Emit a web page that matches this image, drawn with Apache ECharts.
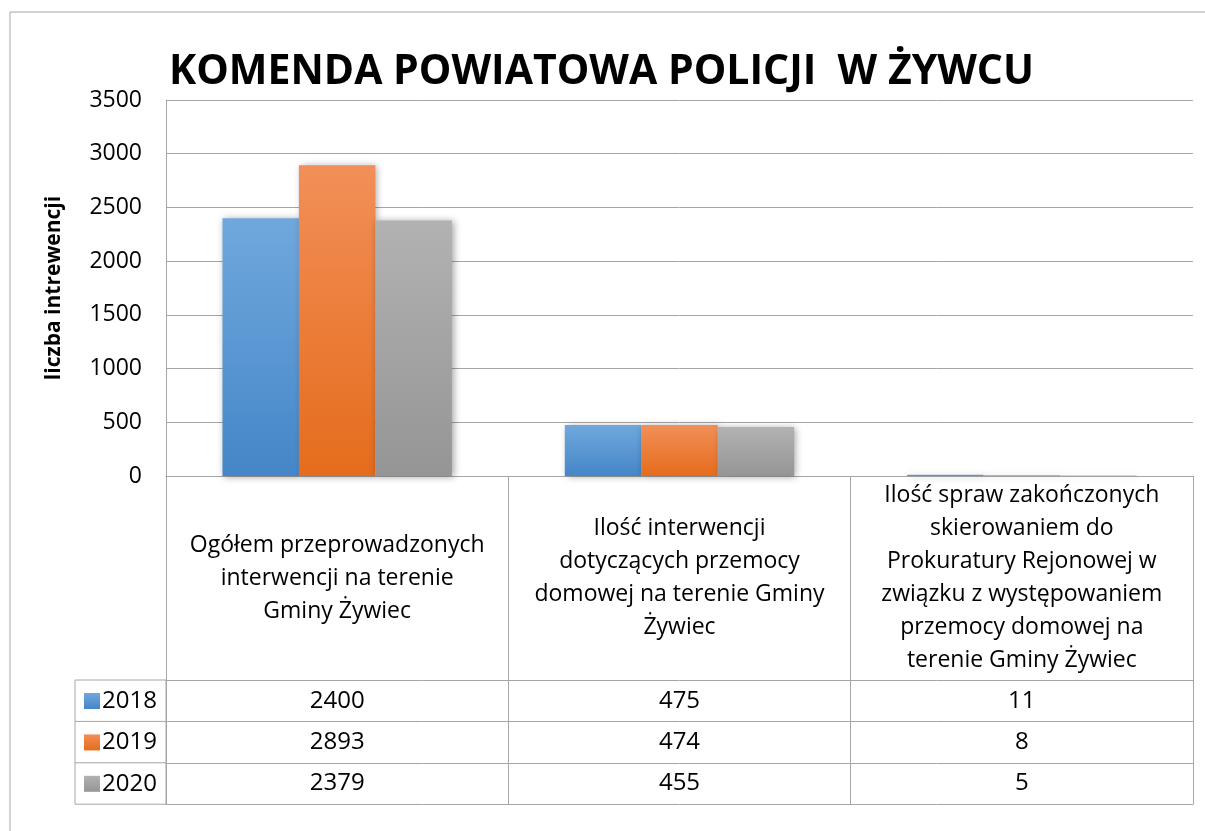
<!DOCTYPE html>
<html>
<head>
<meta charset="utf-8">
<script src="https://cdn.jsdelivr.net/npm/echarts@6/dist/echarts.min.js"></script>
<style>
  html, body { margin: 0; padding: 0; background: #fff; }
  #chart { width: 1205px; height: 831px; }
</style>
</head>
<body>
<div id="chart"></div>
<script>
// categories as shown in the table header (line breaks as in the original)
const categories = [
  'Ogółem przeprowadzonych\ninterwencji na terenie\nGminy Żywiec',
  'Ilość interwencji\ndotyczących przemocy\ndomowej na terenie Gminy\nŻywiec',
  'Ilość spraw zakończonych\nskierowaniem do\nProkuratury Rejonowej w\nzwiązku z występowaniem\nprzemocy domowej na\nterenie Gminy Żywiec',
];
const years = ['2018', '2019', '2020'];
const values2018 = [2400, 475, 11];
const values2019 = [2893, 474, 8];
const values2020 = [2379, 455, 5];
const yTicks = [0, 500, 1000, 1500, 2000, 2500, 3000, 3500];

const rows = [values2018, values2019, values2020];
const colors = [
  ['#70a8dd', '#4586c8'],
  ['#f28f58', '#e56c1c'],
  ['#b2b2b2', '#959595'],
];

// layout
const W = 1205, H = 831;
const plotLeft = 166, plotRight = 1193, plotTop = 100, plotBottom = 476;
const headerH = 204;
const rowH = 41.4;
const legendLeft = 75;
const lineColor = '#a6a6a6';
const font = '"Open Sans", "Noto Sans", sans-serif';

const chart = echarts.init(document.getElementById('chart'));

const gradient = c => new echarts.graphic.LinearGradient(0, 0, 0, 1, [
  { offset: 0, color: c[0] },
  { offset: 1, color: c[1] },
]);

const series = rows.map((data, i) => ({
  name: years[i],
  type: 'bar',
  data: data,
  barGap: '0%',
  barCategoryGap: '33%',
  itemStyle: {
    color: gradient(colors[i]),
    shadowBlur: 7,
    shadowColor: 'rgba(0,0,0,0.35)',
    shadowOffsetX: 2,
    shadowOffsetY: 1,
  },
}));

// x axes: header row (categories) + one axis per table row + closing line
const xAxes = [{
  type: 'category',
  data: categories,
  axisLine: { lineStyle: { color: lineColor } },
  axisTick: { show: true, interval: 0, length: headerH, lineStyle: { color: lineColor } },
  axisLabel: {
    interval: 0,
    margin: headerH / 2,
    verticalAlign: 'middle',
    align: 'center',
    fontSize: 23,
    lineHeight: 33,
    color: '#000',
    fontFamily: font,
  },
}];
rows.forEach((data, r) => {
  xAxes.push({
    type: 'category',
    position: 'bottom',
    offset: headerH + r * rowH,
    data: categories,
    axisLine: { lineStyle: { color: lineColor } },
    axisTick: { show: true, interval: 0, length: rowH, lineStyle: { color: lineColor } },
    axisLabel: {
      interval: 0,
      margin: rowH / 2,
      verticalAlign: 'middle',
      fontSize: 24,
      color: '#000',
      fontFamily: font,
      formatter: (v, idx) => String(data[idx]),
    },
  });
});
xAxes.push({
  type: 'category',
  position: 'bottom',
  offset: headerH + rows.length * rowH,
  data: categories,
  axisLine: { lineStyle: { color: lineColor } },
  axisTick: { show: false },
  axisLabel: { show: false },
});

const tableTop = plotBottom + headerH;
const legendGraphics = [
  {
    type: 'rect',
    shape: { x: legendLeft, y: tableTop, width: plotLeft - legendLeft, height: rows.length * rowH },
    style: { fill: 'none', stroke: lineColor, lineWidth: 1 },
  },
];
for (let r = 1; r < rows.length; r++) {
  legendGraphics.push({
    type: 'line',
    shape: { x1: legendLeft, y1: tableTop + r * rowH, x2: plotLeft, y2: tableTop + r * rowH },
    style: { stroke: lineColor, lineWidth: 1 },
  });
}

const option = {
  backgroundColor: '#fff',
  animation: false,
  title: {
    text: 'KOMENDA POWIATOWA POLICJI  W ŻYWCU',
    left: 169,
    top: 52,
    padding: 0,
    textStyle: { fontSize: 41, fontWeight: 'bold', color: '#000', fontFamily: font },
  },
  legend: {
    data: years,
    orient: 'vertical',
    left: 84,
    top: tableTop + 9,
    itemWidth: 16,
    itemHeight: 16,
    itemGap: rowH - 24,
    icon: 'rect',
    padding: 0,
    textStyle: { fontSize: 24, color: '#000', fontFamily: font, padding: [0, 0, 0, -3] },
  },
  grid: {
    left: plotLeft,
    right: W - plotRight,
    top: plotTop,
    bottom: H - plotBottom,
    containLabel: false,
  },
  xAxis: xAxes,
  yAxis: {
    type: 'value',
    min: yTicks[0],
    max: yTicks[yTicks.length - 1],
    interval: 500,
    name: 'liczba intrewencji',
    nameLocation: 'middle',
    nameRotate: 90,
    nameGap: 101,
    nameTextStyle: { fontSize: 21, fontWeight: 'bold', color: '#000', fontFamily: font },
    axisLine: { show: true, lineStyle: { color: lineColor } },
    axisTick: { show: false },
    axisLabel: {
      margin: 24,
      fontSize: 23,
      color: '#000',
      fontFamily: font,
      formatter: v => String(v),
    },
    splitLine: { lineStyle: { color: lineColor } },
  },
  graphic: [
    {
      type: 'rect',
      shape: { x: 10, y: 12, width: W, height: H },
      style: { fill: 'none', stroke: lineColor, lineWidth: 1 },
      silent: true,
    },
  ].concat(legendGraphics),
  series: series,
};

chart.setOption(option);
</script>
</body>
</html>
